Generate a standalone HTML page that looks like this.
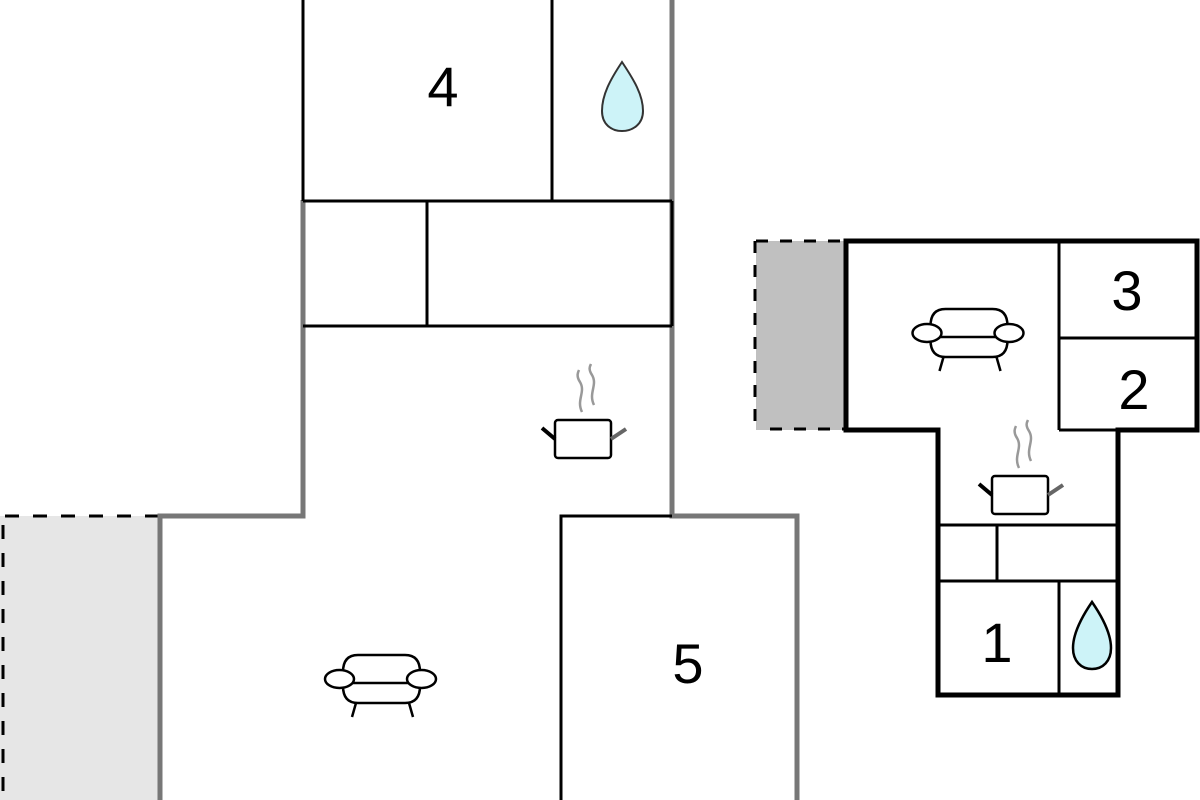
<!DOCTYPE html>
<html><head><meta charset="utf-8"><style>html,body{margin:0;padding:0;background:#fff;}svg{display:block}</style></head>
<body>
<svg width="1200" height="800" viewBox="0 0 1200 800" xmlns="http://www.w3.org/2000/svg">
<defs>
<g id="sofa" fill="none" stroke="#000" stroke-width="2.5">
  <path d="M343,672 Q343,655 358,655 L405,655 Q420,655 420,672"/>
  <path d="M343,686 Q343,703 358,703 L405,703 Q420,703 420,686"/>
  <line x1="352" y1="683" x2="410" y2="683"/>
  <ellipse cx="339.5" cy="679" rx="14.5" ry="9" fill="#fff"/>
  <ellipse cx="421.5" cy="679" rx="14.5" ry="9" fill="#fff"/>
  <line x1="356" y1="703" x2="352" y2="717"/>
  <line x1="409" y1="703" x2="413" y2="717"/>
</g>
<g id="pot">
  <rect x="555" y="420" width="56" height="38" rx="3" fill="#fff" stroke="#000" stroke-width="2.5"/>
  <line x1="542" y1="428" x2="555" y2="439" stroke="#000" stroke-width="4"/>
  <line x1="611" y1="439" x2="626" y2="429" stroke="#666" stroke-width="4"/>
  <path d="M582,412 C576,400 586,392 580,382 C576,376 578,372 579,370" fill="none" stroke="#999" stroke-width="2.5"/>
  <path d="M594,405 C588,393 598,385 592,375 C588,369 590,366 591,364" fill="none" stroke="#999" stroke-width="2.5"/>
</g>
</defs>

<!-- left gray patio -->
<rect x="0" y="516" width="160" height="284" fill="#e6e6e6"/>
<line x1="5" y1="516" x2="185" y2="516" stroke="#000" stroke-width="3" stroke-dasharray="14,14"/>
<line x1="3" y1="525" x2="3" y2="800" stroke="#000" stroke-width="3" stroke-dasharray="14,14"/>

<!-- left building gray walls -->
<g fill="none" stroke="#777" stroke-width="5">
  <polyline points="303,200 303,516 160,516 160,800"/>
  <polyline points="672,0 672,516 797,516 797,800"/>
</g>
<!-- black room lines -->
<g fill="none" stroke="#000" stroke-width="3">
  <line x1="303" y1="0" x2="303" y2="201"/>
  <line x1="552" y1="0" x2="552" y2="201"/>
  <line x1="303" y1="201" x2="672" y2="201"/>
  <line x1="303" y1="326" x2="672" y2="326"/>
  <line x1="427" y1="201" x2="427" y2="326"/>
  <line x1="672" y1="201" x2="672" y2="326"/>
  <polyline points="561,800 561,516 672,516"/>
</g>

<text x="443" y="106" font-family="Liberation Sans, sans-serif" font-size="56" text-anchor="middle">4</text>
<text x="688" y="683" font-family="Liberation Sans, sans-serif" font-size="56" text-anchor="middle">5</text>

<!-- drop top -->
<path d="M622,62 C610,80 602,95 602,111 C602,124 611,131 622,131 C633,131 643,124 643,111 C643,95 634,80 622,62 Z" fill="#cdf3f8" stroke="#333" stroke-width="2"/>

<use href="#sofa"/>
<use href="#pot"/>

<!-- right gray patch -->
<rect x="756" y="241" width="89" height="189" fill="#c0c0c0"/>
<g stroke="#000" stroke-width="3" stroke-dasharray="12,12" fill="none">
  <line x1="756" y1="241" x2="845" y2="241"/>
  <line x1="755" y1="241" x2="755" y2="430"/>
  <line x1="770" y1="429" x2="845" y2="429"/>
</g>

<!-- right building -->
<polygon points="846,241 1197,241 1197,430 1118,430 1118,695 938,695 938,430 846,430" fill="#fff" stroke="#000" stroke-width="5"/>
<g stroke="#000" stroke-width="3" fill="none">
  <line x1="1059" y1="241" x2="1059" y2="430"/>
  <line x1="1059" y1="338" x2="1197" y2="338"/>
  <line x1="1059" y1="430" x2="1118" y2="430"/>
  <line x1="938" y1="525" x2="1118" y2="525"/>
  <line x1="938" y1="581" x2="1118" y2="581"/>
  <line x1="997" y1="525" x2="997" y2="581"/>
  <line x1="1059" y1="581" x2="1059" y2="695"/>
</g>
<text x="1127" y="310" font-family="Liberation Sans, sans-serif" font-size="56" text-anchor="middle">3</text>
<text x="1134" y="409" font-family="Liberation Sans, sans-serif" font-size="56" text-anchor="middle">2</text>
<text x="997" y="662" font-family="Liberation Sans, sans-serif" font-size="56" text-anchor="middle">1</text>

<path d="M1092,602 C1081,618 1073,634 1073,648 C1073,661 1081,669 1092,669 C1103,669 1111,661 1111,648 C1111,634 1103,618 1092,602 Z" fill="#cdf3f8" stroke="#000" stroke-width="2.5"/>

<use href="#sofa" transform="translate(587.5,-346)"/>
<use href="#pot" transform="translate(437,56)"/>
</svg>
</body></html>
